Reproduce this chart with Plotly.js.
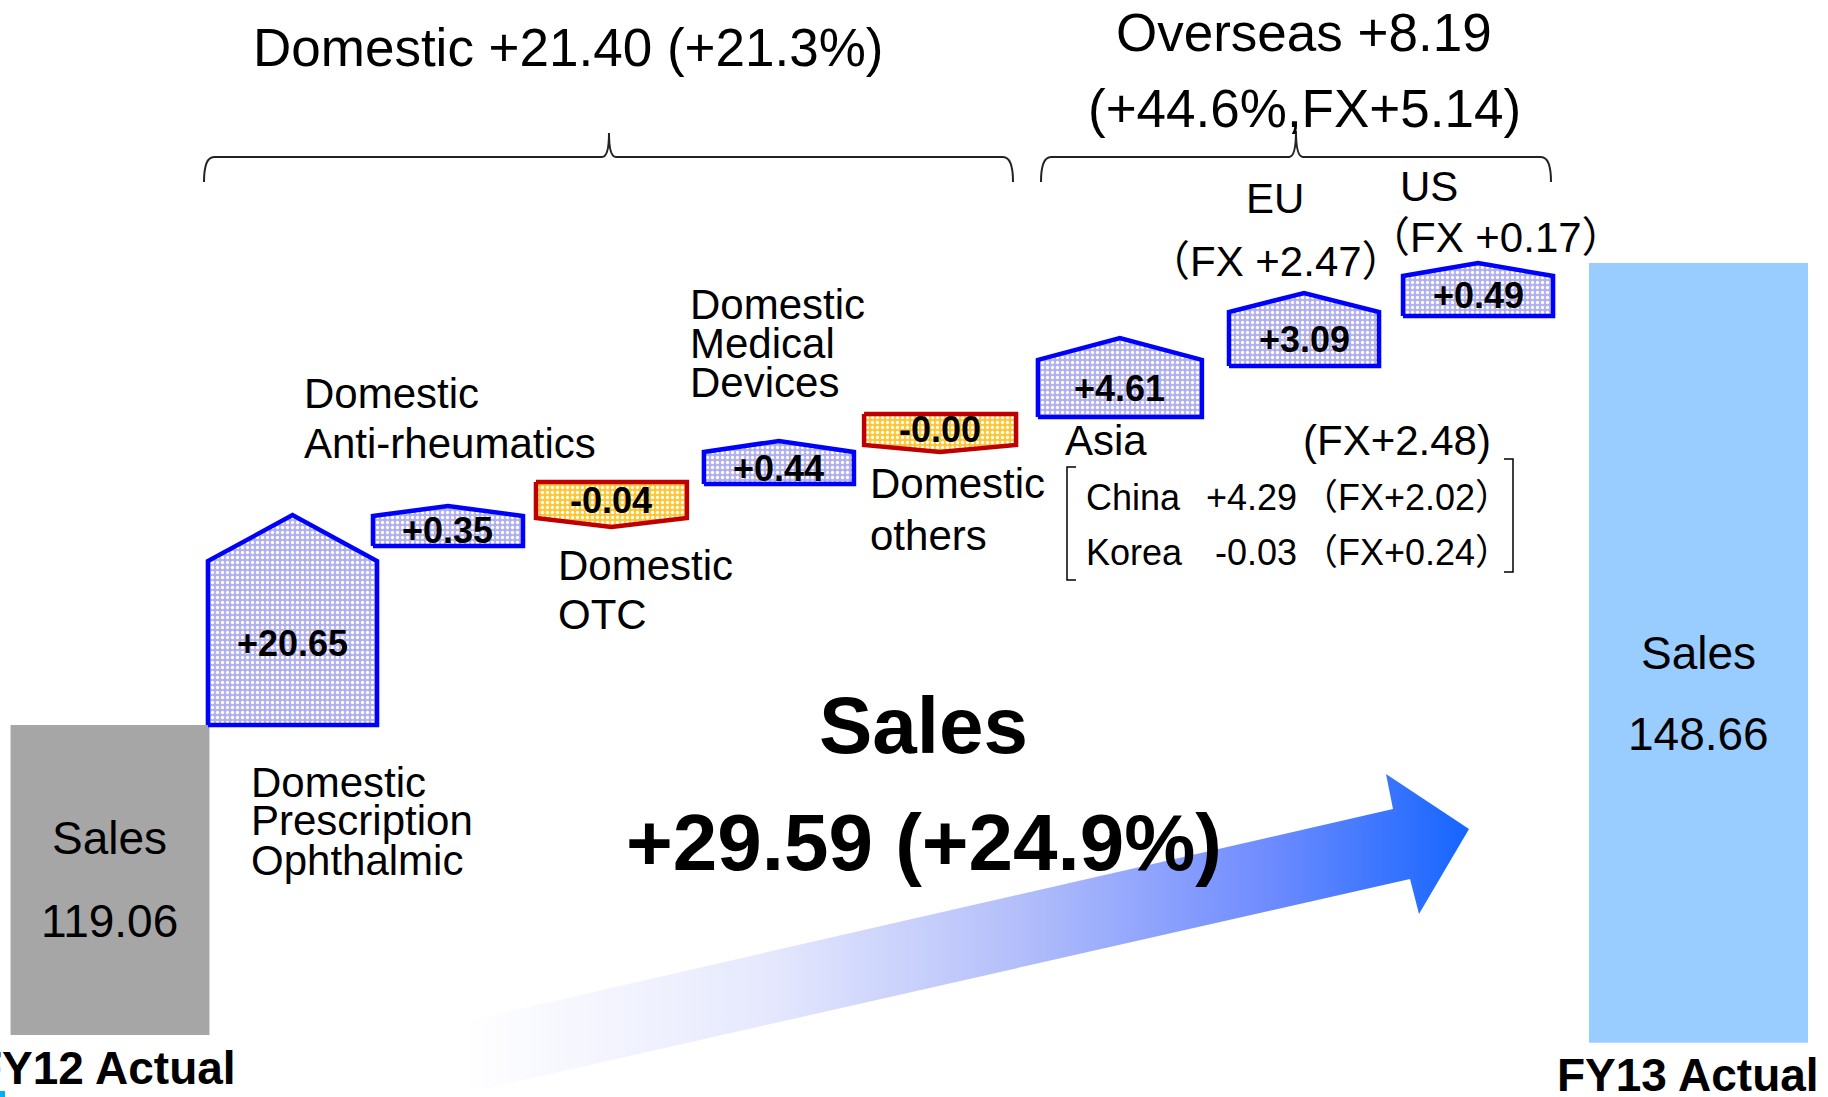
<!DOCTYPE html>
<html><head><meta charset="utf-8">
<script src="https://cdn.plot.ly/plotly-3.0.1.min.js"></script>
<style>html,body{margin:0;padding:0;background:#fff;overflow:hidden}#chart{width:1828px;height:1097px}</style>
</head><body><div id="chart"></div>
<script>
// ---------------- data ----------------
const totalLabels = ['FY12 Actual', 'FY13 Actual'];
const totalSales = [119.06, 148.66];
const totalSalesText = ['119.06', '148.66'];

const stepNames = ['Domestic Prescription Ophthalmic', 'Domestic Anti-rheumatics', 'Domestic OTC',
  'Domestic Medical Devices', 'Domestic others', 'Asia', 'EU', 'US'];
const stepDelta = [20.65, 0.35, -0.04, 0.44, -0.00, 4.61, 3.09, 0.49];
const stepText = ['+20.65', '+0.35', '-0.04', '+0.44', '-0.00', '+4.61', '+3.09', '+0.49'];

const domesticChange = ['+21.40', '+21.3%'];
const overseasChange = ['+8.19', '+44.6%', '+5.14'];
const totalChange = ['+29.59', '+24.9%'];
const regionFx = ['+2.48', '+2.47', '+0.17'];          // Asia, EU, US
const asiaNames = ['China', 'Korea'];
const asiaDelta = ['+4.29', '-0.03'];
const asiaFx = ['+2.02', '+0.24'];

// ---------------- schematic geometry (the steps are not drawn to scale) ----------------
// levels on the sales axis
const stepBodyLow  = [119.06, 130.53, 132.32, 134.50, 137.00, 138.79, 142.06, 145.27];
const stepBodyHigh = [129.56, 132.45, 134.63, 136.55, 138.99, 142.45, 145.52, 147.83];
const stepTip      = [132.51, 133.09, 131.75, 137.26, 136.55, 143.85, 146.74, 148.66];
const totalBase = [99.2, 98.7];
const slotPos   = [0, 1.034, 1.915, 2.841, 3.790, 4.703, 5.722, 6.765, 7.751, 9];
const slotWidth = [1.127, 0.958, 0.85, 0.855, 0.85, 0.861, 0.929, 0.85, 0.85, 1.241];

const W = 1828, H = 1097;
const FONT = 'Liberation Sans, Arial, Noto Sans CJK JP, sans-serif';
const px2x = p => -0.6232 + p / 176.5;        // page px -> slot axis
const py2y = p => 165.51 - p / 15.6081;       // page px -> sales axis

const traces = [];

// arrow (behind everything)
const arrowPx = [[462,1022],[1393,809],[1386,774],[1469,829],[1419,914],[1410,879],[462,1094],[462,1022]];
traces.push({
  type: 'scatter', mode: 'lines', fill: 'toself',
  x: arrowPx.map(p => px2x(p[0])), y: arrowPx.map(p => py2y(p[1])),
  line: {width: 0, color: 'rgba(0,0,0,0)'},
  fillgradient: {type: 'horizontal', colorscale: [[0,'#ffffff'],[0.3,'#e6e9fd'],[0.55,'#b4bffa'],[0.8,'#6f8cff'],[1,'#1565ff']]},
  hoverinfo: 'skip'
});

// FY totals
traces.push({
  type: 'bar', x: [slotPos[0], slotPos[9]],
  y: totalSales.map((v, i) => v - totalBase[i]), base: totalBase,
  width: [slotWidth[0], slotWidth[9]],
  marker: {color: ['#a6a6a6', '#99ccff'], line: {width: 0}},
  hoverinfo: 'skip'
});

// step pentagons
const annotations = [];
stepDelta.forEach((d, i) => {
  const xc = slotPos[i + 1], w = slotWidth[i + 1], l = xc - w / 2, r = xc + w / 2;
  const down = stepText[i].startsWith('-');
  const lo = stepBodyLow[i], hi = stepBodyHigh[i], tip = stepTip[i];
  const xs = down ? [l, r, r, xc, l, l] : [l, l, xc, r, r, l];
  const ys = down ? [hi, hi, lo, tip, lo, hi] : [lo, hi, tip, hi, lo, lo];
  traces.push({
    type: 'scatter', mode: 'lines', fill: 'toself', x: xs, y: ys,
    line: {color: down ? '#c00000' : '#0000ff', width: 4.5},
    fillcolor: down ? '#ffd455' : '#c2c2f2',
    fillpattern: down
      ? {shape: '.', bgcolor: '#ffc633', fgcolor: '#ffffff', size: 5, solidity: 0.35}
      : {shape: '.', bgcolor: '#b0b0ee', fgcolor: '#ffffff', size: 5, solidity: 0.35},
    hoverinfo: 'skip'
  });
  annotations.push({xref: 'x', yref: 'y', x: xc, y: (lo + hi) / 2, text: stepText[i], showarrow: false,
    xanchor: 'center', yanchor: 'middle', font: {family: FONT, size: 36, weight: 'bold', color: '#000'}});
});

function txt(t, px, py, size, anchor, extra) {
  annotations.push(Object.assign({xref: 'paper', yref: 'paper', x: px / W, y: 1 - py / H, text: t,
    showarrow: false, xanchor: anchor || 'left', yanchor: 'middle', borderpad: 0, borderwidth: 0,
    font: {family: FONT, size: size, color: '#000'}}, extra || {}));
}

// headers
txt('Domestic ' + domesticChange[0] + ' (' + domesticChange[1] + ')', 568, 47, 53, 'center');
txt('Overseas ' + overseasChange[0], 1304, 33, 53, 'center');
txt('(' + overseasChange[1] + ',FX' + overseasChange[2] + ')', 1304, 108, 53, 'center');

// category labels
txt('Domestic', 251, 782, 42); txt('Prescription', 251, 820, 42); txt('Ophthalmic', 251, 860, 42);
txt('Domestic', 304, 393, 42); txt('Anti-rheumatics', 304, 443, 42);
txt('Domestic', 558, 565, 42); txt('OTC', 558, 614, 42);
txt('Domestic', 690, 305, 42); txt('Medical', 690, 343, 42); txt('Devices', 690, 382, 42);
txt('Domestic', 870, 483, 42); txt('others', 870, 535, 42);
txt(stepNames[5], 1065, 440, 42); txt('(FX' + regionFx[0] + ')', 1491, 440, 42, 'right');
txt(stepNames[6], 1275, 198, 42, 'center'); txt('（FX ' + regionFx[1] + '）', 1276, 262, 42, 'center');
txt(stepNames[7], 1400, 187, 42); txt('（FX ' + regionFx[2] + '）', 1496, 238, 42, 'center');

// Asia breakdown
asiaNames.forEach((n, i) => {
  const y = [497, 552][i];
  txt(n, 1086, y, 36);
  txt(asiaDelta[i], 1297, y, 36, 'right');
  txt('（FX' + asiaFx[i] + '）', 1406, y, 36, 'center');
});

// totals text
[0, 1].forEach(i => {
  const yS = [838, 653][i], yV = [921, 734][i];
  annotations.push({xref: 'x', yref: 'paper', x: slotPos[i * 9], y: 1 - yS / H, text: 'Sales', showarrow: false,
    yanchor: 'middle', font: {family: FONT, size: 46, color: '#000'}});
  annotations.push({xref: 'x', yref: 'paper', x: slotPos[i * 9], y: 1 - yV / H, text: totalSalesText[i], showarrow: false,
    yanchor: 'middle', font: {family: FONT, size: 46, color: '#000'}});
  annotations.push({xref: 'x', yref: 'paper', x: slotPos[i * 9], y: 1 - [1068, 1075][i] / H, text: totalLabels[i],
    showarrow: false, yanchor: 'middle', xshift: [-5, -10][i], borderpad: 0, borderwidth: 0,
    font: {family: FONT, size: 46, weight: 'bold', color: '#000'}});
});

// big centre text
txt('Sales', 923, 725, 80, 'center', {font: {family: FONT, size: 80, weight: 'bold', color: '#000'}});
txt(totalChange[0] + ' (' + totalChange[1] + ')', 924, 842, 80, 'center', {font: {family: FONT, size: 80, weight: 'bold', color: '#000'}});

// braces and brackets
const P = (x, y) => (x / W).toFixed(5) + ',' + (1 - y / H).toFixed(5);
function brace(l, r, m, yl, ye, yt) {
  return 'M' + P(l, ye) + ' Q' + P(l, yl) + ' ' + P(l + 10, yl) + ' L' + P(m - 7, yl) +
    ' Q' + P(m, yl) + ' ' + P(m, yt) + ' Q' + P(m, yl) + ' ' + P(m + 7, yl) +
    ' L' + P(r - 10, yl) + ' Q' + P(r, yl) + ' ' + P(r, ye);
}
const shapes = [
  {type: 'path', xref: 'paper', yref: 'paper', path: brace(204, 1013, 609, 157, 182, 133), line: {color: '#222', width: 2}},
  {type: 'path', xref: 'paper', yref: 'paper', path: brace(1041, 1551, 1296, 157, 182, 131), line: {color: '#222', width: 2}},
  {type: 'path', xref: 'paper', yref: 'paper', path: 'M' + P(1076, 467) + ' L' + P(1067, 467) + ' L' + P(1067, 580) + ' L' + P(1076, 580), line: {color: '#000', width: 1.5}},
  {type: 'path', xref: 'paper', yref: 'paper', path: 'M' + P(1504, 459) + ' L' + P(1513, 459) + ' L' + P(1513, 572) + ' L' + P(1504, 572), line: {color: '#000', width: 1.5}},
  {type: 'rect', xref: 'paper', yref: 'paper', x0: 0, x1: 5 / W, y0: 0, y1: 6 / H, fillcolor: '#00b0f0', line: {width: 0}}
];

const layout = {
  width: W, height: H, margin: {l: 0, r: 0, t: 0, b: 0, pad: 0},
  paper_bgcolor: '#fff', plot_bgcolor: '#fff', showlegend: false,
  xaxis: {range: [px2x(0), px2x(W)], visible: false, fixedrange: true},
  yaxis: {range: [py2y(H), py2y(0)], visible: false, fixedrange: true},
  annotations: annotations, shapes: shapes
};
Plotly.newPlot('chart', traces, layout, {displayModeBar: false, staticPlot: true});
</script></body></html>
